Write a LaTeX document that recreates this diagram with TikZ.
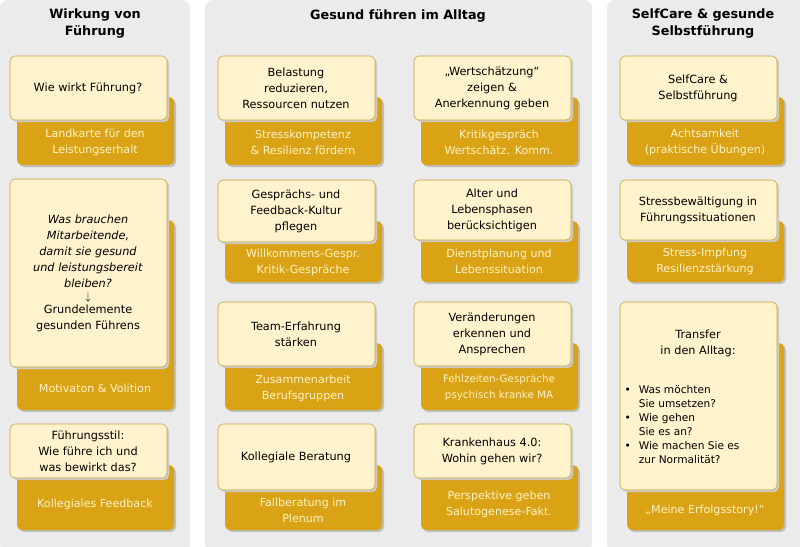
\documentclass[tikz,border=0pt]{standalone}
\usepackage{fontspec}
\setmainfont{DejaVu Sans}
\begin{document}
\begin{tikzpicture}[x=1pt,y=-1pt,
  panel/.style={fill=black!8,draw=none,rounded corners=8pt},
  front/.style={fill=fcol,draw=bcol,line width=0.6pt,rounded corners=5pt},
  dark/.style={fill=dcol,draw=none,rounded corners=5pt},
  ftxt/.style={align=center,font=\fontsize{11.3}{16}\selectfont,text=black},
  dtxt/.style={align=center,font=\fontsize{11.1}{16}\selectfont,text=ltcol},
  head/.style={align=center,font=\bfseries\fontsize{12.8}{17}\selectfont}]
\definecolor{fcol}{HTML}{FFF3CD}
\definecolor{bcol}{HTML}{C9A23A}
\definecolor{dcol}{HTML}{D9A315}
\definecolor{ltcol}{HTML}{FFF3C8}
\useasboundingbox (0,0) rectangle (800,546);
\fill[panel] (0,0) rectangle (190,552);
\fill[panel] (205,0) rectangle (592,552);
\fill[panel] (607,0) rectangle (806,552);
\node[head] (h1) at (95,24) {Wirkung von\\Führung};
\node[head] (h2) at (398,16) {Gesund führen im Alltag};
\node[head] (h3) at (703,24) {SelfCare \& gesunde\\Selbstführung};
\newcommand\card[7]{%
  \fill[black!25,rounded corners=5pt] (#2+9,#3+43) rectangle (#2+166,#5+2);
  \fill[dark] (#2+7,#3+41) rectangle (#2+164,#5);
  \node[dtxt] (#1d) at (#2+85,{(#4+#5)/2}) {#7};
  \fill[black!20,rounded corners=5pt] (#2+2,#3+2) rectangle (#2+159,#4+2);
  \draw[front] (#2,#3) rectangle (#2+157,#4);
  \node[ftxt] (#1f) at (#2+78,{(#3+#4)/2}) {#6};
}
\card{a1}{10}{56}{120}{165}{Wie wirkt Führung?}{Landkarte für den\\Leistungserhalt}
\card{a2}{10}{179}{367}{410}{\textit{Was brauchen}\\\textit{Mitarbeitende,}\\\textit{damit sie gesund}\\\textit{und leistungsbereit}\\\textit{bleiben?}\\[-3pt]$\downarrow$\\[-3pt]Grundelemente\\gesunden Führens}{Motivaton \& Volition}
\card{a3}{10}{424}{478}{530}{Führungsstil:\\Wie führe ich und\\was bewirkt das?}{Kollegiales Feedback}
\card{b1}{218}{56}{120}{165}{Belastung\\reduzieren,\\Ressourcen nutzen}{Stresskompetenz\\\& Resilienz fördern}
\card{b2}{218}{180}{242}{282}{Gesprächs- und\\Feedback-Kultur\\pflegen}{Willkommens-Gespr.\\Kritik-Gespräche}
\card{b3}{218}{302}{366}{410}{Team-Erfahrung\\stärken}{Zusammenarbeit\\Berufsgruppen}
\card{b4}{218}{424}{490}{530}{Kollegiale Beratung}{Fallberatung im\\Plenum}
\card{c1}{414}{56}{120}{165}{„Wertschätzung“\\zeigen \&\\Anerkennung geben}{Kritikgespräch\\Wertschätz. Komm.}
\card{c2}{414}{180}{240}{282}{Alter und\\Lebensphasen\\berücksichtigen}{Dienstplanung und\\Lebenssituation}
\card{c3}{414}{302}{366}{410}{Veränderungen\\erkennen und\\Ansprechen}{\fontsize{10.3}{16}\selectfont Fehlzeiten-Gespräche\\\fontsize{10.3}{16}\selectfont psychisch kranke MA}
\card{c4}{414}{424}{478}{530}{Krankenhaus 4.0:\\Wohin gehen wir?}{Perspektive geben\\Salutogenese-Fakt.}
\card{d1}{620}{56}{120}{165}{SelfCare \&\\Selbstführung}{Achtsamkeit\\(praktische Übungen)}
\card{d2}{620}{180}{240}{282}{Stressbewältigung in\\Führungssituationen}{Stress-Impfung\\Resilienzstärkung}
\card{d3}{620}{302}{490}{530}{}{„Meine Erfolgsstory!“}
\node[ftxt,font=\fontsize{11.3}{16}\selectfont] (d3t) at (698,343) {Transfer\\in den Alltag:};
\node[ftxt,align=left,anchor=north west,font=\fontsize{10.6}{14}\selectfont] (d3l) at (621,380) {%
\begin{tabular}{@{}l@{\hspace{8pt}}l@{}}
•&Was möchten\\&Sie umsetzen?\\
•&Wie gehen\\&Sie es an?\\
•&Wie machen Sie es\\&zur Normalität?
\end{tabular}};
\end{tikzpicture}
\end{document}
